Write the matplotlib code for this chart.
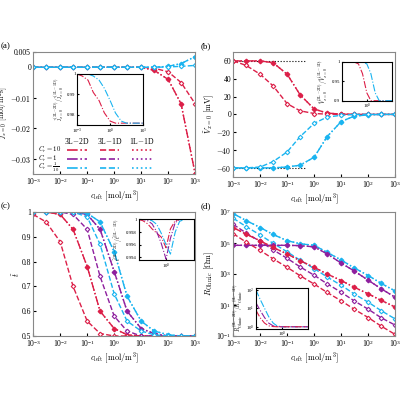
import numpy as np
import matplotlib
matplotlib.use('Agg')
import matplotlib.pyplot as plt
from matplotlib.lines import Line2D

plt.rcParams['font.family'] = ['Liberation Serif', 'DejaVu Serif']
plt.rcParams['mathtext.fontset'] = 'cm'
plt.rcParams['font.size'] = 6

RED = '#dc1f48'
PUR = '#8e1f9e'
CYA = '#1ab4f0'

# concentration grid [mol/m^3]
c = [1e-3, 3e-3, 1e-2, 3e-2, 0.1, 0.3, 1, 3, 10, 30, 100, 300, 1000]

# (a) flux at x=0
j_red_2d = [0, 0, 0, 0, 0, 0, 0, 0, 0, -0.001, -0.004, -0.012, -0.035]
j_red_1d = [0, 0, 0, 0, 0, 0, 0, 0, 0, -0.0003, -0.0015, -0.005, -0.012]
j_cya_2d = [0, 0, 0, 0, 0, 0, 0, 0, 0, 0, 0.0003, 0.0012, 0.0035]
j_cya_1d = [0, 0, 0, 0, 0, 0, 0, 0, 0, 0, 0.0001, 0.0003, 0.0006]
ja_in_red = [1, 0.999, 0.997, 0.991, 0.987, 0.981, 0.977, 0.976, 0.976, 0.976, 0.976, 0.976, 0.976]
ja_in_cya = [1, 1, 1, 0.999, 0.997, 0.993, 0.987, 0.981, 0.977, 0.976, 0.976, 0.976, 0.976]

# (b) potential at x=0 [mV]
v_red_2d = [60, 60, 60, 58, 45, 22, 6, 1.5, 0.3, 0, 0, 0, 0]
v_red_1d = [60, 55, 45, 32, 12, 4, 1, 0.3, 0, 0, 0, 0, 0]
v_cya_2d = [-60, -60, -60, -60, -59, -57, -48, -25, -8, -2, -0.5, 0, 0]
v_cya_1d = [-60, -60, -59, -53, -42, -25, -10, -3, -1, 0, 0, 0, 0]
vb_in_red = [1, 1, 1, 1, 0.995, 0.97, 0.92, 0.9, 0.9, 0.9, 0.9, 0.9, 0.9]
vb_in_cya = [1, 1, 1, 1, 1, 1, 0.995, 0.97, 0.92, 0.9, 0.9, 0.9, 0.9]

# (c) transference number
t_red_2d = [1, 1, 0.99, 0.93, 0.78, 0.6, 0.53, 0.505, 0.5, 0.5, 0.5, 0.5, 0.5]
t_red_1d = [0.99, 0.96, 0.88, 0.7, 0.56, 0.51, 0.5, 0.5, 0.5, 0.5, 0.5, 0.5, 0.5]
t_pur_2d = [1, 1, 1, 1, 0.99, 0.93, 0.76, 0.6, 0.53, 0.51, 0.5, 0.5, 0.5]
t_pur_1d = [1, 1, 1, 0.99, 0.93, 0.74, 0.58, 0.52, 0.5, 0.5, 0.5, 0.5, 0.5]
t_cya_2d = [1, 1, 1, 1, 0.995, 0.96, 0.84, 0.66, 0.56, 0.52, 0.505, 0.5, 0.5]
t_cya_1d = [1, 1, 1, 1, 0.98, 0.87, 0.67, 0.56, 0.52, 0.505, 0.5, 0.5, 0.5]
tc_in_red = [1, 0.9998, 0.9993, 0.9985, 0.9978, 0.9972, 0.9955, 0.9985, 0.9998, 1, 1, 1, 1]
tc_in_pur = [1, 1, 0.9998, 0.9993, 0.998, 0.9962, 0.9937, 0.997, 0.9995, 1, 1, 1, 1]
tc_in_cya = [1, 1, 1, 0.9998, 0.9992, 0.9978, 0.996, 0.9945, 0.998, 0.9997, 1, 1, 1]

# (d) ohmic resistance, log10 [Ohm]
r_cya_2d = [6.9, 6.45, 6.0, 5.55, 5.15, 4.95, 4.85, 4.4, 3.9, 3.4, 2.9, 2.4, 1.9]
r_cya_1d = [6.6, 6.06, 5.52, 4.98, 4.43, 3.89, 3.35, 2.81, 2.27, 1.72, 1.18, 0.64, 0.1]
r_pur_2d = [4.85, 4.85, 4.85, 4.85, 4.85, 4.83, 4.75, 4.3, 3.7, 3.2, 2.6, 2.05, 1.5]
r_pur_1d = [6.2, 5.65, 5.1, 4.56, 4.01, 3.46, 2.92, 2.37, 1.82, 1.27, 0.73, 0.18, -0.3]
r_red_2d = [6.0, 5.57, 5.14, 4.71, 4.29, 3.86, 3.43, 3.0, 2.58, 2.15, 1.72, 1.3, 0.87]
r_red_1d = [5.6, 5.06, 4.52, 3.98, 3.43, 2.89, 2.35, 1.81, 1.27, 0.73, 0.19, -0.36, -0.9]
rd_in_cya = [2.0, 1.5, 1.0, 0.55, 0.2, 0.04, 0, 0, 0, 0, 0, 0, 0]
rd_in_pur = [1.3, 0.9, 0.5, 0.2, 0.05, 0.01, 0, 0, 0, 0, 0, 0, 0]
rd_in_red = [0.9, 0.5, 0.2, 0.05, 0.01, 0, 0, 0, 0, 0, 0, 0, 0]

fig = plt.figure(figsize=(4, 4), dpi=100)
pos = {'a': [0.083, 0.565, 0.405, 0.305], 'b': [0.583, 0.558, 0.405, 0.312],
       'c': [0.083, 0.16, 0.405, 0.31], 'd': [0.583, 0.16, 0.405, 0.31]}


def pair(ax, y2d, y1d, col, logy=False):
    y2 = 10 ** np.array(y2d) if logy else y2d
    y1 = 10 ** np.array(y1d) if logy else y1d
    ax.plot(c, y2, ':', color=col, lw=1)
    ax.plot(c, y2, '-.', color=col, lw=1, marker='D', ms=2.3, mfc=col, mec=col)
    ax.plot(c, y1, '--', color=col, lw=1, marker='D', ms=2.3, mfc='white', mec=col, mew=0.8)


def setup(ax, lab):
    ax.set_xscale('log')
    ax.set_xlim(1e-3, 1e3)
    ax.set_xticks([1e-3, 1e-2, 1e-1, 1e0, 1e1, 1e2, 1e3])
    ax.minorticks_off()
    ax.set_xlabel(r'$c_{\mathrm{left}}\ [\mathrm{mol/m}^3]$', fontsize=6, labelpad=1)
    ax.tick_params(labelsize=5.5, length=2, pad=1.5, direction='in')
    for s in ax.spines.values():
        s.set_color('#888888')
    ax.text(-0.2, 1.03, '(' + lab + ')', transform=ax.transAxes, fontsize=6.5)


def inset(ax, rect, series, ylim, yt, logy=False):
    ia = ax.inset_axes(rect)
    for y, col in series:
        yy = 10 ** np.array(y) if logy else y
        ia.plot(c, yy, '-.', color=col, lw=0.8)
    ia.set_xscale('log')
    if logy:
        ia.set_yscale('log')
    ia.set_xlim(1e-3, 1e3)
    ia.set_ylim(*ylim)
    ia.set_yticks(yt)
    ia.minorticks_off()
    ia.set_xticks([1e-3, 1e0, 1e3] if not logy else [1e0])
    ia.tick_params(labelsize=3.5, length=1.5, pad=1, direction='in')
    return ia


# (a)
ax = fig.add_axes(pos['a'])
pair(ax, j_red_2d, j_red_1d, RED)
pair(ax, j_cya_2d, j_cya_1d, CYA)
setup(ax, 'a')
ax.set_ylim(-0.035, 0.005)
ax.set_yticks([-0.03, -0.02, -0.01, 0, 0.005])
ax.set_yticklabels(['$-0.03$', '$-0.02$', '$-0.01$', '0', '0.005'])
ax.set_ylabel(r'$\tilde{j}_{x=0}\ [\mathrm{mol/m^2s}]$', fontsize=5.5, labelpad=0)
ia = inset(ax, [0.27, 0.40, 0.41, 0.42], [(ja_in_red, RED), (ja_in_cya, CYA)], (0.975, 1.0), [0.98, 0.99, 1])
ia.set_yticklabels(['0.98', '0.99', '1'])
ia.set_ylabel(r'$\tilde{j}_{x=0}^{(3\mathrm{L}-2\mathrm{D})}/\tilde{j}_{x=0}^{(1\mathrm{L}-1\mathrm{D})}$', fontsize=4, labelpad=1)
# legend table
for h, xh in zip(['3L$-$2D', '3L$-$1D', '1L$-$1D'], [0.27, 0.47, 0.67]):
    ax.text(xh, 0.27, h, transform=ax.transAxes, ha='center', va='center', fontsize=5.5)
rows = [(r'$C_r = 10$', RED), (r'$C_r = 1$', PUR), (r'$C_r = \frac{1}{10}$', CYA)]
for r, (t, col) in enumerate(rows):
    yy = 0.2 - 0.075 * r
    ax.text(0.03, yy, t, transform=ax.transAxes, va='center', fontsize=4.8)
    for (x0, x1), ls in zip([(0.21, 0.33), (0.41, 0.53), (0.61, 0.74)], ['-.', '--', ':']):
        ax.add_line(Line2D([x0, x1], [yy, yy], transform=ax.transAxes,
                           color=col, ls=ls, lw=1.2))

# (b)
ax = fig.add_axes(pos['b'])
ax.plot([1e-3, 0.5], [60, 60], ':', color='k', lw=0.8)
ax.plot([1e-3, 0.5], [-60, -60], ':', color='k', lw=0.8)
pair(ax, v_red_2d, v_red_1d, RED)
pair(ax, v_cya_2d, v_cya_1d, CYA)
setup(ax, 'b')
ax.set_ylim(-70, 70)
ax.set_yticks([-60, -40, -20, 0, 20, 40, 60])
ax.set_yticklabels(['$-60$', '$-40$', '$-20$', '0', '20', '40', '60'])
ax.set_ylabel(r'$\tilde{V}_{x=0}\ [\mathrm{mV}]$', fontsize=6, labelpad=0)
ia = inset(ax, [0.67, 0.61, 0.31, 0.31], [(vb_in_red, RED), (vb_in_cya, CYA)], (0.9, 1.0), [0.9, 0.95, 1])
ia.set_xticks([1e0])
ia.set_yticklabels(['0.9', '0.95', '1'])
ia.set_ylabel(r'$\tilde{V}_{x=0}^{(3\mathrm{L}-2\mathrm{D})}/\tilde{V}_{x=0}^{(1\mathrm{L}-1\mathrm{D})}$', fontsize=4, labelpad=1)

# (c)
ax = fig.add_axes(pos['c'])
pair(ax, t_red_2d, t_red_1d, RED)
pair(ax, t_pur_2d, t_pur_1d, PUR)
pair(ax, t_cya_2d, t_cya_1d, CYA)
setup(ax, 'c')
ax.set_ylim(0.5, 1.0)
ax.set_yticks([0.5, 0.6, 0.7, 0.8, 0.9, 1])
ax.set_yticklabels(['0.5', '0.6', '0.7', '0.8', '0.9', '1'])
ax.set_ylabel(r'$\tilde{t}$', fontsize=6, labelpad=0)
ia = inset(ax, [0.65, 0.61, 0.34, 0.33], [(tc_in_red, RED), (tc_in_pur, PUR), (tc_in_cya, CYA)],
           (0.9935, 1.0), [0.994, 0.996, 0.998, 1])
ia.set_xticks([1e0])
ia.set_yticklabels(['0.994', '0.996', '0.998', '1'])
ia.set_ylabel(r'$\tilde{t}^{(3\mathrm{L}-2\mathrm{D})}/\tilde{t}^{(1\mathrm{L}-1\mathrm{D})}$', fontsize=4, labelpad=1)

# (d)
ax = fig.add_axes(pos['d'])
pair(ax, r_cya_2d, r_cya_1d, CYA, logy=True)
pair(ax, r_pur_2d, r_pur_1d, PUR, logy=True)
pair(ax, r_red_2d, r_red_1d, RED, logy=True)
setup(ax, 'd')
ax.set_yscale('log')
ax.set_ylim(1e-1, 1e7)
ax.set_yticks([1e-1, 1e1, 1e3, 1e5, 1e7])
ax.minorticks_off()
ax.set_ylabel(r'$R_{\mathrm{Ohmic}}\ [\Omega\mathrm{m}]$', fontsize=6, labelpad=0)
ia = inset(ax, [0.14, 0.06, 0.32, 0.33], [(rd_in_cya, CYA), (rd_in_pur, PUR), (rd_in_red, RED)],
           (0.8, 130), [1, 10, 100], logy=True)
ia.set_ylabel(r'$R_{\mathrm{Ohmic}}^{(3\mathrm{L}-2\mathrm{D})}/R_{\mathrm{Ohmic}}^{(1\mathrm{L}-1\mathrm{D})}$', fontsize=4, labelpad=1)

fig.savefig('out.png', dpi=100)
